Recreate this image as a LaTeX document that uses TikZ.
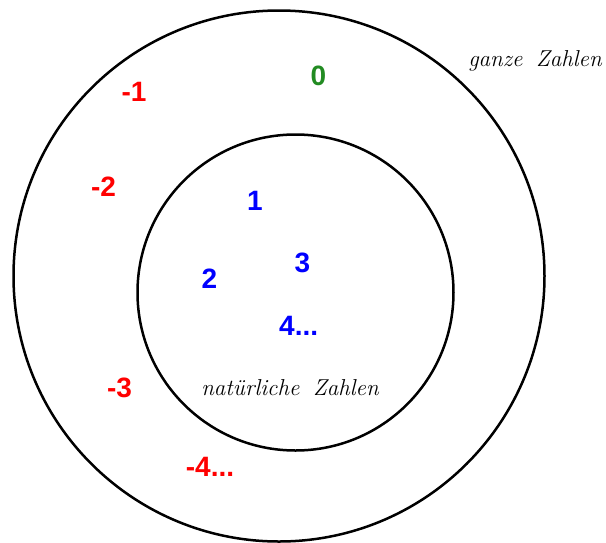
\documentclass[tikz,border=0pt]{standalone}
\usepackage{fontspec}
\newfontfamily\numfont{Liberation Sans}
\usetikzlibrary{positioning}

\definecolor{negred}{RGB}{255,0,0}
\definecolor{natblue}{RGB}{0,0,255}
\definecolor{zerogreen}{RGB}{34,139,34}

\tikzset{
  num/.style={font=\fontsize{28}{30}\selectfont\numfont\bfseries, anchor=base, inner sep=0pt},
  negnum/.style={num, text=negred},
  natnum/.style={num, text=natblue},
  setname/.style={font=\fontsize{23}{25}\selectfont\itshape, anchor=base, inner sep=0pt}
}

\begin{document}
\begin{tikzpicture}[x=1pt,y=-1pt]
\useasboundingbox (0,0) rectangle (606,542);
% Sets
\draw[line width=2.5pt] (279,276) circle (265.5);
\draw[line width=2.5pt] (295.5,292.5) circle (158);
% Zero
\node[num, text=zerogreen] (zero) at (318.5,85) {0};
% Negative numbers
\foreach \x/\y/\t [count=\i] in {134/101/{-1}, 103.5/196/{-2}, 119.5/397/{-3}, 210/476/{-4{.}{.}{.}}} {
  \node[negnum] (neg\i) at (\x,\y) {\t};
}
% Natural numbers
\foreach \x/\y/\t [count=\i] in {255/210/{1}, 209.5/288/{2}, 302.5/272/{3}, 298.7/335/{4{.}{.}{.}}} {
  \node[natnum] (nat\i) at (\x,\y) {\t};
}
% Names of the sets
\node[setname] (ganze) at (535,66) {ganze\hspace{0.6em}Zahlen};
\node[setname] (natuerlich) at (290,395) {natürliche\hspace{0.6em}Zahlen};
\end{tikzpicture}
\end{document}
